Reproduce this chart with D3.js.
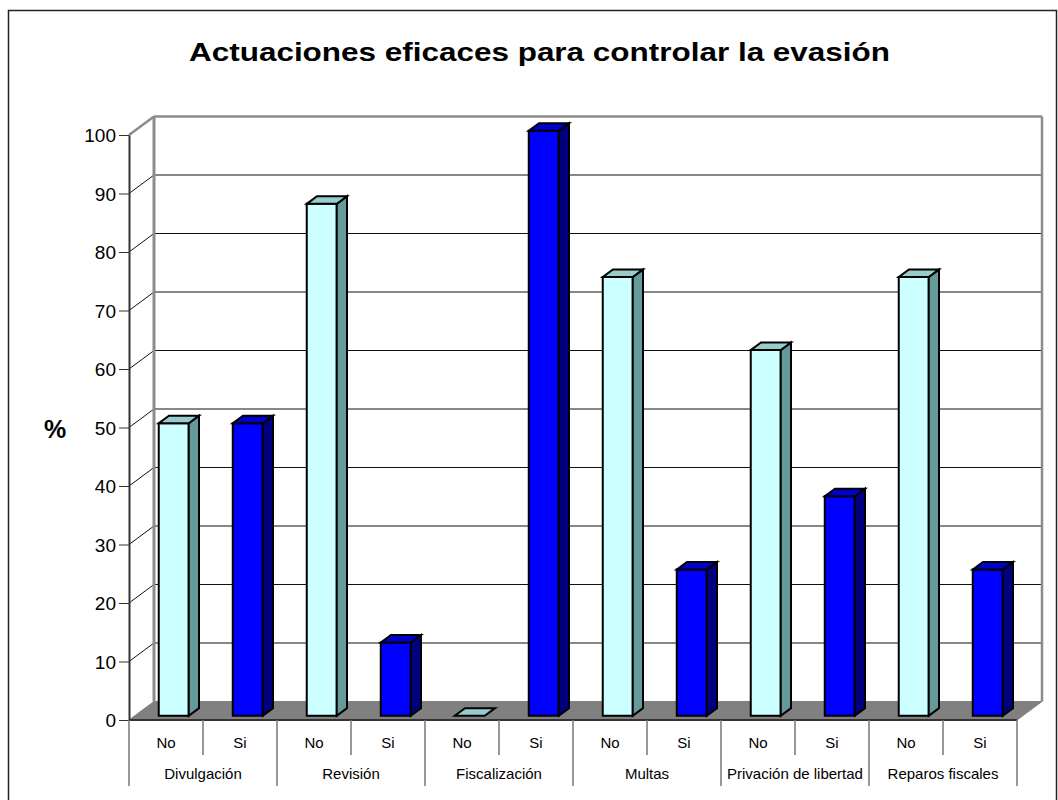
<!DOCTYPE html>
<html>
<head>
<meta charset="utf-8">
<script src="https://cdn.jsdelivr.net/npm/d3@7"></script>
<style>
  html, body { margin: 0; padding: 0; background: #fff; }
  svg { display: block; font-family: Arial, "Liberation Sans", sans-serif; }
</style>
</head>
<body>
<svg id="chart" width="1058" height="800"></svg>
<script>
// ---- data ----
const groups = ["Divulgación", "Revisión", "Fiscalización", "Multas", "Privación de libertad", "Reparos fiscales"];
const subCats = ["No", "Si"];
const noValues = [50, 87.5, 0, 75, 62.5, 75];
const siValues = [50, 12.5, 100, 25, 37.5, 25];
const yTicks = [0, 10, 20, 30, 40, 50, 60, 70, 80, 90, 100];
const title = "Actuaciones eficaces para controlar la evasión";
const yLabel = "%";

(function () {
// ---- layout ----
const svg = d3.select("#chart");
const DX = 25, DY = -18.5;          // depth projection of the back wall
const F0 = 0.23, F1 = 0.64;         // bar depth fraction range
const pLeft = 129, pRight = 1017, pBottom = 720, pTop = 135;

const slots = [];
groups.forEach((g, gi) => subCats.forEach((s, si) => slots.push({
  key: g + "|" + s, group: g, sub: s,
  value: si === 0 ? noValues[gi] : siValues[gi]
})));

const x = d3.scaleBand().domain(slots.map(d => d.key)).range([pLeft, pRight]).paddingInner(0).paddingOuter(0);
const y = d3.scaleLinear().domain([0, 100]).range([pBottom, pTop]);

// frame
svg.append("rect").attr("x", 8.5).attr("y", 10.5).attr("width", 1048).attr("height", 800)
  .attr("fill", "none").attr("stroke", "#222").attr("stroke-width", 1.5);

// title
svg.append("text").attr("x", 539.5).attr("y", 61).attr("text-anchor", "middle")
  .attr("font-size", 26).attr("font-weight", "bold")
  .attr("textLength", 701).attr("lengthAdjust", "spacingAndGlyphs").text(title);

// floor
svg.append("polygon")
  .attr("points", [[pLeft, y(0)], [pRight, y(0)], [pRight + DX, y(0) + DY], [pLeft + DX, y(0) + DY]].map(p => p.join(",")).join(" "))
  .attr("fill", "#808080").attr("stroke", "#808080").attr("stroke-width", 1);

// gridlines on back wall + left wall diagonals
const gridVals = yTicks.filter(v => v > 0 && v < 100);
svg.append("g").selectAll("line").data(gridVals).join("line")
  .attr("x1", pLeft + DX).attr("x2", pRight + DX)
  .attr("y1", d => y(d) + DY).attr("y2", d => y(d) + DY)
  .attr("stroke", "#111").attr("stroke-width", 1);
svg.append("g").selectAll("line").data(gridVals).join("line")
  .attr("x1", pLeft).attr("x2", pLeft + DX)
  .attr("y1", d => y(d)).attr("y2", d => y(d) + DY)
  .attr("stroke", "#111").attr("stroke-width", 1);

// wall edges
const wallEdge = "#8c8c8c";
svg.append("line").attr("x1", pLeft + DX).attr("x2", pRight + DX).attr("y1", y(100) + DY).attr("y2", y(100) + DY)
  .attr("stroke", wallEdge).attr("stroke-width", 2.5);
svg.append("line").attr("x1", pLeft).attr("x2", pLeft + DX).attr("y1", y(100)).attr("y2", y(100) + DY)
  .attr("stroke", wallEdge).attr("stroke-width", 2.5);
svg.append("line").attr("x1", pLeft + DX).attr("x2", pLeft + DX).attr("y1", y(100) + DY).attr("y2", y(0) + DY)
  .attr("stroke", wallEdge).attr("stroke-width", 3);
svg.append("line").attr("x1", pRight + DX).attr("x2", pRight + DX).attr("y1", y(100) + DY).attr("y2", y(0) + DY)
  .attr("stroke", wallEdge).attr("stroke-width", 2.5);

// bars
const colors = {
  No: { front: "#CCFFFF", top: "#99CCCC", side: "#669999" },
  Si: { front: "#0000FF", top: "#0000CC", side: "#000080" }
};
const barW = 30;
const ddx = (F1 - F0) * DX, ddy = (F1 - F0) * DY;
const pts = a => a.map(p => p.join(",")).join(" ");
const st = el => el.attr("stroke", "#000").attr("stroke-width", 2).attr("stroke-linejoin", "miter");
svg.append("g").selectAll("g").data(slots).join("g").each(function (d) {
  const g = d3.select(this);
  const bx = x(d.key) + 24 + F0 * DX;
  const yb = y(0) + F0 * DY;
  const yt = y(d.value) + F0 * DY;
  const c = colors[d.sub];
  if (d.value > 0) {
    st(g.append("polygon").attr("points", pts([[bx, yb], [bx + barW, yb], [bx + barW, yt], [bx, yt]])).attr("fill", c.front));
    st(g.append("polygon").attr("points", pts([[bx + barW, yt], [bx + barW + ddx, yt + ddy], [bx + barW + ddx, yb + ddy], [bx + barW, yb]])).attr("fill", c.side));
  }
  st(g.append("polygon").attr("points", pts([[bx, yt], [bx + barW, yt], [bx + barW + ddx, yt + ddy], [bx + ddx, yt + ddy]])).attr("fill", c.top));
});

// y axis
const yAxis = d3.axisLeft(y).tickValues(yTicks).tickSize(10).tickSizeOuter(0).tickPadding(3);
const ya = svg.append("g").attr("transform", `translate(${pLeft},0)`).call(yAxis);
ya.attr("font-family", null).attr("font-size", null);
ya.select(".domain").attr("stroke", "#333").attr("stroke-width", 2);
ya.selectAll(".tick line").attr("stroke", "#333").attr("stroke-width", 1);
ya.selectAll(".tick text").attr("font-size", 19).attr("fill", "#000").attr("dy", "0.36em");

svg.append("text").attr("x", 55).attr("y", 438).attr("text-anchor", "middle")
  .attr("font-size", 25).attr("font-weight", "bold").text(yLabel);

// x axis (front floor edge)
svg.append("line").attr("x1", pLeft).attr("x2", pRight).attr("y1", y(0)).attr("y2", y(0))
  .attr("stroke", "#333").attr("stroke-width", 2);

// separators
const bounds = slots.map((d, i) => ({ xpos: x(d.key), major: i % 2 === 0 }));
bounds.push({ xpos: pRight, major: true });
svg.append("g").selectAll("line").data(bounds).join("line")
  .attr("x1", d => d.xpos).attr("x2", d => d.xpos)
  .attr("y1", y(0)).attr("y2", d => d.major ? 786 : 755)
  .attr("stroke", "#777").attr("stroke-width", 1.5);

svg.append("g").selectAll("text").data(slots).join("text")
  .attr("x", d => x(d.key) + x.bandwidth() / 2).attr("y", 748)
  .attr("text-anchor", "middle").attr("font-size", 15).text(d => d.sub);

svg.append("g").selectAll("text").data(groups).join("text")
  .attr("x", g => x(g + "|No") + x.bandwidth())
  .attr("y", 779).attr("text-anchor", "middle").attr("font-size", 15).text(g => g);
})();
</script>
</body>
</html>
